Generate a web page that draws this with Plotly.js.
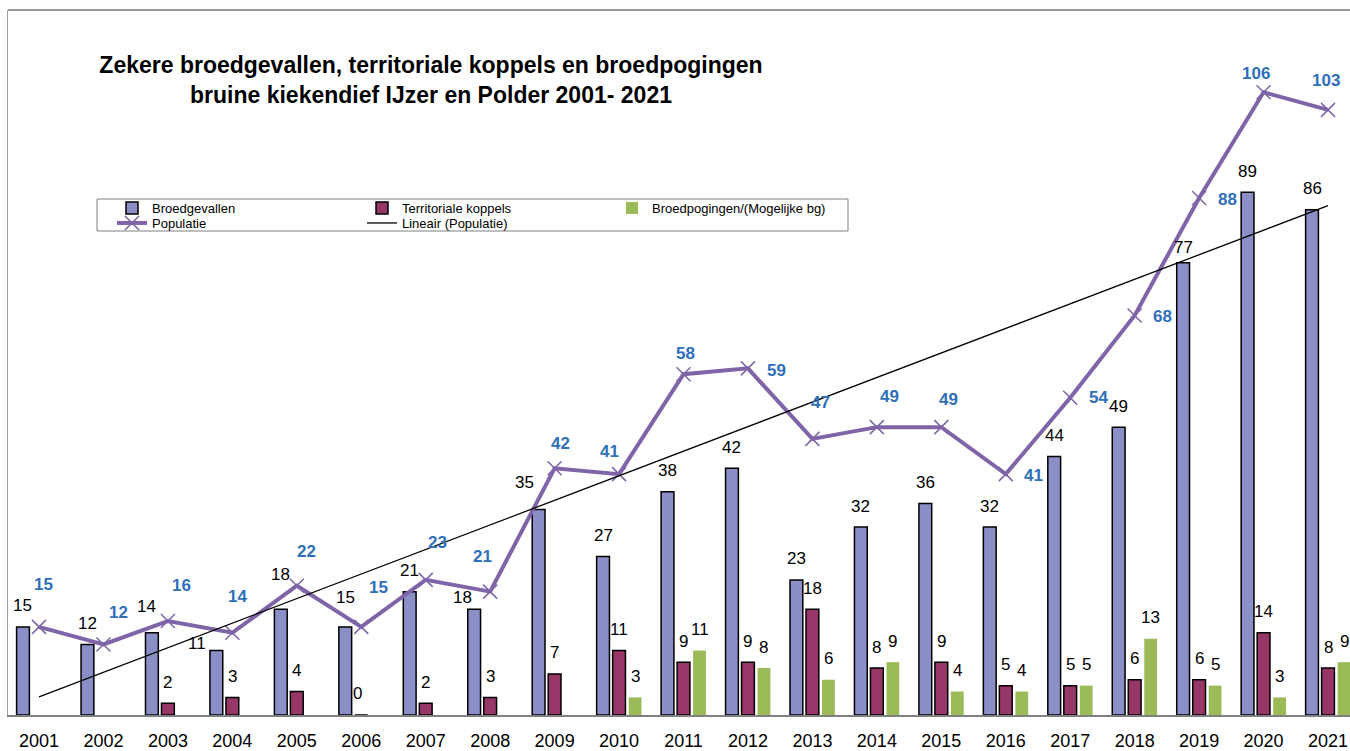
<!DOCTYPE html>
<html>
<head>
<meta charset="utf-8">
<script src="https://cdn.plot.ly/plotly-3.0.1.min.js"></script>
<style>
  html, body { margin: 0; padding: 0; background: #fff; }
  #chart { width: 1350px; height: 751px; }
</style>
</head>
<body>
<div id="chart"></div>
<script>
const years = ["2001", "2002", "2003", "2004", "2005", "2006", "2007", "2008", "2009", "2010", "2011",
    "2012", "2013", "2014", "2015", "2016", "2017", "2018", "2019", "2020", "2021"];
const broedgevallen = [15, 12, 14, 11, 18, 15, 21, 18, 35, 27, 38, 42, 23, 32, 36, 32, 44, 49, 77, 89, 86];
const territorialeKoppels = [null, null, 2, 3, 4, 0, 2, 3, 7, 11, 9, 9, 18, 8, 9, 5, 5, 6, 6, 14, 8];
const broedpogingen = [null, null, null, null, null, null, null, null, null, 3, 11, 8, 6, 9, 4, 4, 5, 13, 5, 3, 9];
const populatie = [15, 12, 16, 14, 22, 15, 23, 21, 42, 41, 58, 59, 47, 49, 49, 41, 54, 68, 88, 106, 103];

const trendYears = ["2001", "2021"];
const trendValues = [3.1, 86.7];

const fontFamily = "Liberation Sans, Arial, sans-serif";

// plot area in pixels
const plotLeft = 8;
const plotWidth = 1342;
const plotTop = 10;
const plotHeight = 705;
const xRange = [-0.481, 20.341];
const yRange = [0, 120];
const barGap = 0.255;

const catWidth = plotWidth / (xRange[1] - xRange[0]);
const slotWidth = catWidth * (1 - barGap) / 3;

// label placement tweaks (pixels): [dx, up]
const popLabelShift = [[4, 42], [15, 32], [14, 36], [5, 36], [10, 34], [17, 39], [12, 37], [-8, 35],
    [6, 25], [-10, 23], [2, 21], [29, -2], [8, 36], [13, 31], [7, 28], [28, -1], [28, 0], [28, -1],
    [28, -1], [-8, 19], [-2, 29]];
const blueLabelShift = {
    "2003": [-5, 26], "2004": [-19, 7], "2005": [0, 35], "2006": [0, 29],
    "2008": [-12, 12], "2009": [-14, 27], "2019": [0, 15]
};
const redLabelShift = { "2006": [-4, 22] };

function px(x) {
    return (x - plotLeft) / plotWidth;
}
function py(y) {
    return (plotTop + plotHeight - y) / plotHeight;
}

// category axis: annotations use the category index
function barLabels(values, slot, shifts) {
    const notes = [];
    values.forEach((v, i) => {
        if (v === null) return;
        const s = shifts[years[i]] || [0, 21];
        notes.push({
            x: i, y: v, xref: "x", yref: "y",
            text: String(v), showarrow: false,
            xshift: slot * slotWidth + s[0], yshift: s[1],
            xanchor: "center", yanchor: "middle",
            font: { family: fontFamily, size: 17, color: "#000" }
        });
    });
    return notes;
}

const popLabels = populatie.map((v, i) => ({
    x: i, y: v, xref: "x", yref: "y",
    text: "<b>" + v + "</b>", showarrow: false,
    xshift: popLabelShift[i][0], yshift: popLabelShift[i][1],
    xanchor: "center", yanchor: "middle",
    font: { family: fontFamily, size: 17, color: "#2f6fba" }
}));

const traces = [
    {
        type: "bar", name: "Broedgevallen", x: years, y: broedgevallen,
        marker: { color: "#8a8fc7", line: { color: "#000", width: 1.5 } },
        legend: "legend"
    },
    {
        type: "bar", name: "Territoriale koppels", x: years, y: territorialeKoppels,
        marker: { color: "#963768", line: { color: "#000", width: 1.5 } },
        legend: "legend"
    },
    {
        type: "bar", name: "Broedpogingen/(Mogelijke bg)", x: years, y: broedpogingen,
        marker: { color: "#9bbb59", line: { width: 0 } },
        legend: "legend"
    },
    {
        type: "scatter", mode: "lines+markers", name: "Populatie", x: years, y: populatie,
        line: { color: "#7f64a8", width: 4 },
        marker: { symbol: "x-thin-open", size: 14, color: "#7f64a8", line: { color: "#7f64a8", width: 1.5 } },
        legend: "legend2"
    },
    {
        type: "scatter", mode: "lines", name: "Lineair (Populatie)", x: trendYears, y: trendValues,
        line: { color: "#000", width: 1.3 },
        legend: "legend2"
    }
];

const legendCommon = {
    orientation: "h",
    xref: "paper", yref: "paper",
    xanchor: "left", yanchor: "middle",
    entrywidth: 205, entrywidthmode: "pixels",
    bgcolor: "rgba(0,0,0,0)",
    borderwidth: 0,
    traceorder: "normal",
    font: { family: fontFamily, size: 13, color: "#000" }
};

const layout = {
    width: 1350,
    height: 751,
    paper_bgcolor: "#fff",
    plot_bgcolor: "#fff",
    margin: { l: plotLeft, r: 0, t: plotTop, b: 751 - plotTop - plotHeight },
    font: { family: fontFamily, color: "#000" },
    title: {
        text: "Zekere broedgevallen, territoriale koppels en broedpogingen<br>bruine kiekendief IJzer en Polder 2001- 2021",
        x: 431 / 1350, xanchor: "center", xref: "container",
        y: 1 - 73 / 751, yanchor: "top", yref: "container",
        font: { family: fontFamily, size: 23, weight: "bold", color: "#000" }
    },
    barmode: "group",
    bargap: barGap,
    bargroupgap: 0.2,
    xaxis: {
        type: "category",
        range: xRange,
        showline: true, linecolor: "#808080", linewidth: 2,
        ticks: "", showgrid: false, zeroline: false,
        ticklabelstandoff: 8,
        tickfont: { family: fontFamily, size: 18, color: "#000" }
    },
    yaxis: {
        range: yRange,
        showline: true, linecolor: "#a0a0a0", linewidth: 1.5,
        showticklabels: false, ticks: "", showgrid: false, zeroline: false
    },
    showlegend: true,
    legend: { ...legendCommon, x: px(112), y: py(208) },
    legend2: { ...legendCommon, x: px(112), y: py(223) },
    shapes: [
        {
            type: "line", xref: "paper", yref: "paper", x0: 0, x1: 1, y0: 1, y1: 1,
            line: { color: "#9a9a9a", width: 2 }
        },
        {
            type: "rect", xref: "paper", yref: "paper",
            x0: px(97), x1: px(848), y0: py(231), y1: py(199),
            line: { color: "#808080", width: 1 }
        }
    ],
    annotations: [
        ...barLabels(broedgevallen, -1, blueLabelShift),
        ...barLabels(territorialeKoppels, 0, redLabelShift),
        ...barLabels(broedpogingen, 1, {}),
        ...popLabels
    ]
};

Plotly.newPlot("chart", traces, layout, { staticPlot: true });
</script>
</body>
</html>
